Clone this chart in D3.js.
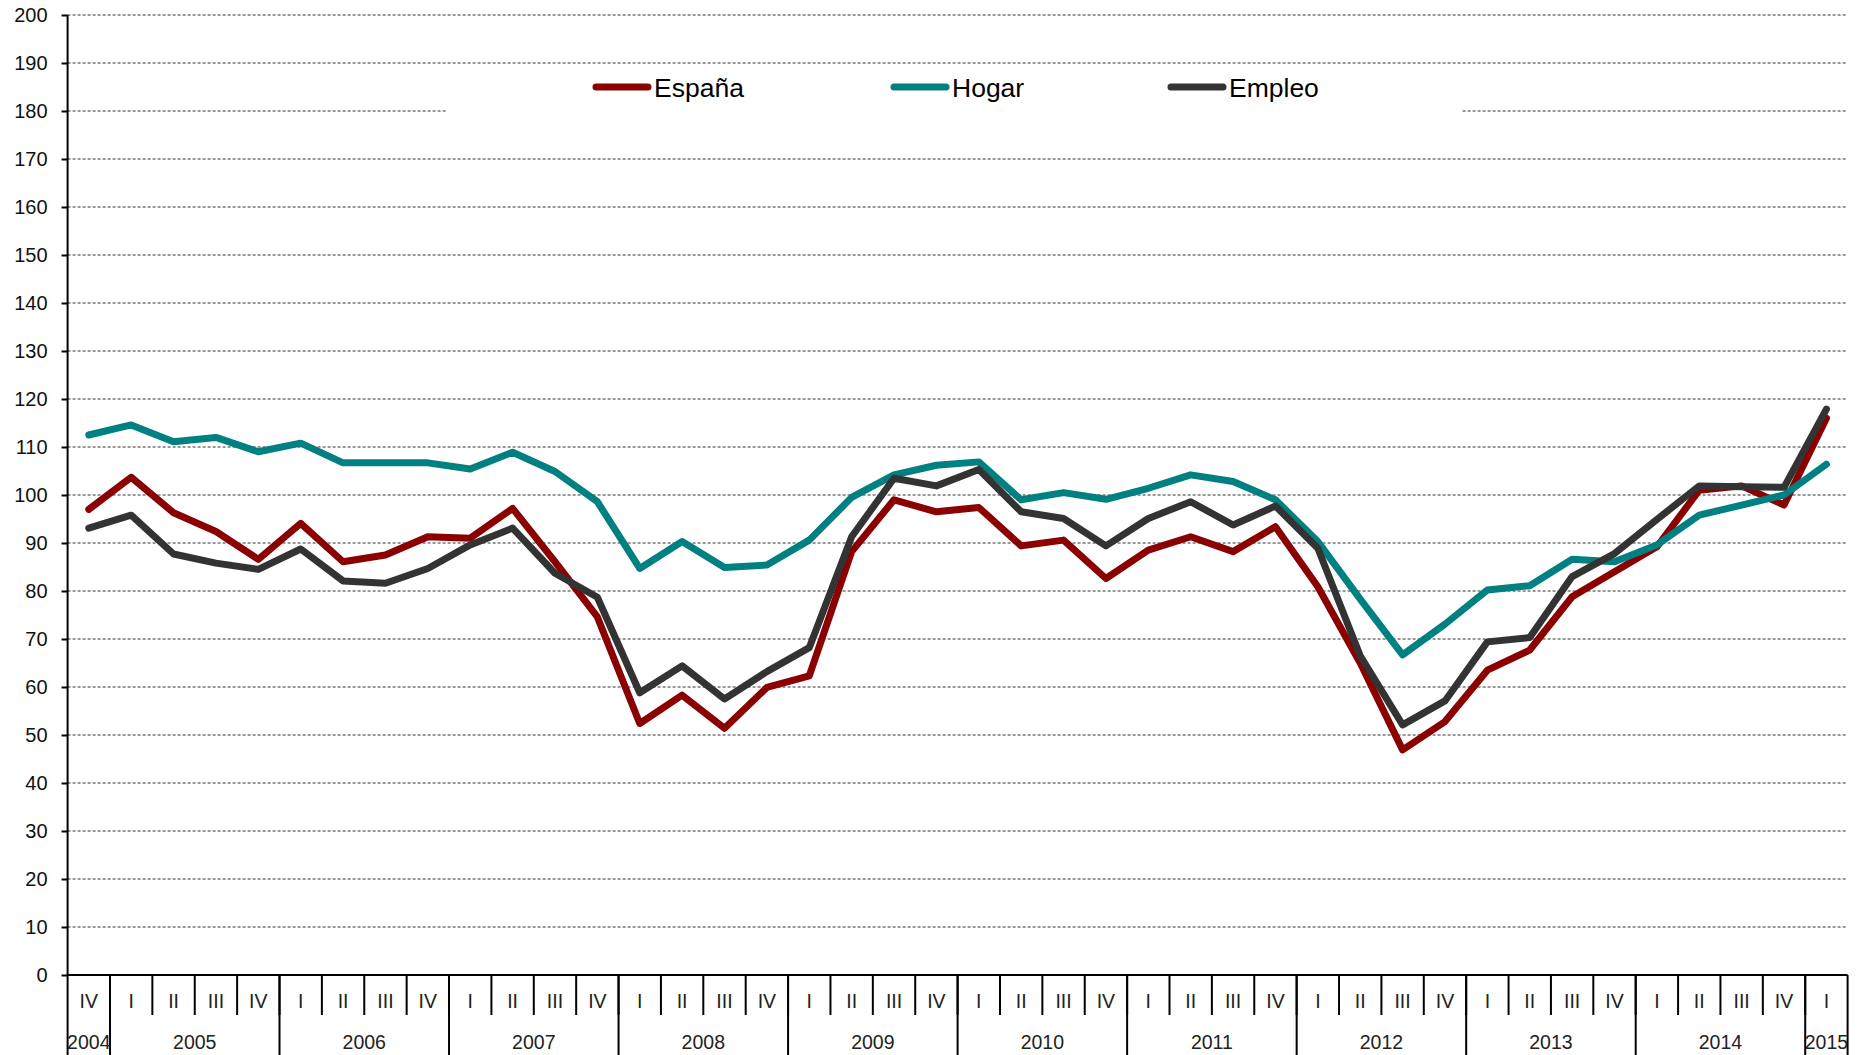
<!DOCTYPE html>
<html>
<head>
<meta charset="utf-8">
<script src="https://cdn.jsdelivr.net/npm/d3@7"></script>
<style>
  body { margin: 0; background: #fff; }
  svg { display: block; font-family: "Liberation Sans", Arial, sans-serif; }
</style>
</head>
<body>
<div id="chart"></div>
<script>
// quarters IV-2004 .. I-2015
const quarterLabels = ["IV",
  "I","II","III","IV", "I","II","III","IV", "I","II","III","IV",
  "I","II","III","IV", "I","II","III","IV", "I","II","III","IV",
  "I","II","III","IV", "I","II","III","IV", "I","II","III","IV",
  "I","II","III","IV",
  "I"];
const yearLabels = ["2004","2005","2006","2007","2008","2009","2010","2011","2012","2013","2014","2015"];
const yearSpans  = [1, 4, 4, 4, 4, 4, 4, 4, 4, 4, 4, 1];

const espana = [97.0, 103.7, 96.3, 92.4, 86.6, 94.1, 86.1, 87.5, 91.3, 91.0,
  97.2, 86.1, 74.6, 52.4, 58.3, 51.4, 59.9, 62.3, 88.2, 99.0,
  96.5, 97.4, 89.4, 90.6, 82.6, 88.5, 91.3, 88.2, 93.4, 80.9,
  65.0, 46.9, 52.8, 63.5, 67.7, 78.8, 84.0, 89.2, 101.0, 101.9,
  97.9, 116.0];
const hogar = [112.5, 114.6, 111.1, 112.0, 109.0, 110.8, 106.7, 106.7, 106.7, 105.4,
  108.9, 104.9, 98.6, 84.7, 90.3, 84.9, 85.4, 90.6, 99.5, 104.2,
  106.2, 106.9, 99.0, 100.5, 99.1, 101.4, 104.2, 102.8, 99.0, 90.3,
  78.3, 66.7, 73.1, 80.2, 81.1, 86.6, 86.1, 89.6, 95.8, 97.9,
  100.0, 106.4];
const empleo = [93.1, 95.8, 87.7, 85.8, 84.5, 88.75, 82.1, 81.6, 84.7, 89.6,
  93.1, 83.7, 78.7, 58.8, 64.4, 57.5, 63.2, 68.2, 91.3, 103.5,
  101.9, 105.3, 96.5, 95.1, 89.4, 95.1, 98.6, 93.75, 97.7, 88.9,
  66.5, 52.1, 57.1, 69.4, 70.3, 83.0, 87.8, 94.9, 101.9, 101.7,
  101.6, 117.9];

const seriesNames = ["España", "Hogar", "Empleo"];
const yTicks = d3.range(0, 201, 10);

const width = 1860, height = 1055;
const plotLeft = 67.6, plotRight = 1847.6, plotTop = 15, plotBottom = 975;

const colors = { "España": "#8b0000", "Hogar": "#008080", "Empleo": "#333333" };
const values = { "España": espana, "Hogar": hogar, "Empleo": empleo };

const svg = d3.select("#chart").append("svg")
  .attr("width", width)
  .attr("height", height);

const x = d3.scaleBand()
  .domain(d3.range(quarterLabels.length))
  .range([plotLeft, plotRight])
  .padding(0);
const cx = i => x(i) + x.bandwidth() / 2;

const y = d3.scaleLinear()
  .domain([0, 200])
  .range([plotBottom, plotTop]);

// gridlines
svg.append("g")
  .selectAll("line")
  .data(yTicks.filter(d => d > 0))
  .enter().append("line")
  .attr("x1", plotLeft).attr("x2", plotRight)
  .attr("y1", d => y(d)).attr("y2", d => y(d))
  .attr("stroke", "#333")
  .attr("stroke-width", 1)
  .attr("stroke-dasharray", "3,2");

// y axis
const yAxis = svg.append("g")
  .attr("transform", `translate(${plotLeft},0)`)
  .call(d3.axisLeft(y).tickValues(yTicks).tickSize(6).tickPadding(14).tickFormat(d3.format("d")));
yAxis.select(".domain").remove();
yAxis.selectAll(".tick line").attr("stroke", "#000").attr("stroke-width", 2);
yAxis.selectAll(".tick text")
  .style("font-size", "20px")
  .attr("fill", "#111");

// legend box (hides the 180 gridline behind it)
const legend = svg.append("g");
legend.append("rect")
  .attr("x", 446).attr("y", 70)
  .attr("width", 1015).attr("height", 46)
  .attr("fill", "#fff");

const legendX = { "España": 593, "Hogar": 891, "Empleo": 1168 };
seriesNames.forEach(name => {
  const lx = legendX[name];
  legend.append("line")
    .attr("x1", lx + 3).attr("x2", lx + 55)
    .attr("y1", 87).attr("y2", 87)
    .attr("stroke", colors[name])
    .attr("stroke-width", 7)
    .attr("stroke-linecap", "round");
  legend.append("text")
    .attr("x", lx + 61).attr("y", 96.5)
    .text(name)
    .style("font-size", "26.5px")
    .attr("fill", "#000");
});

// axis lines
svg.append("line")
  .attr("x1", plotLeft).attr("x2", plotLeft)
  .attr("y1", plotTop).attr("y2", height)
  .attr("stroke", "#000").attr("stroke-width", 2);
svg.append("line")
  .attr("x1", plotLeft).attr("x2", plotRight)
  .attr("y1", plotBottom).attr("y2", plotBottom)
  .attr("stroke", "#000").attr("stroke-width", 2);

// quarter separators and labels
const qAxis = svg.append("g");
quarterLabels.forEach((q, i) => {
  if (i > 0) {
    qAxis.append("line")
      .attr("x1", x(i)).attr("x2", x(i))
      .attr("y1", plotBottom).attr("y2", 1015)
      .attr("stroke", "#000").attr("stroke-width", 2);
  }
  qAxis.append("text")
    .attr("x", cx(i)).attr("y", 1008)
    .attr("text-anchor", "middle")
    .style("font-size", "19.5px")
    .attr("fill", "#222")
    .text(q);
});

// year separators and labels
let start = 0;
yearLabels.forEach((yr, k) => {
  const end = start + yearSpans[k];
  const x0 = x(start);
  const x1 = end < quarterLabels.length ? x(end) : plotRight;
  qAxis.append("line")
    .attr("x1", x1).attr("x2", x1)
    .attr("y1", plotBottom).attr("y2", height)
    .attr("stroke", "#000").attr("stroke-width", 2);
  qAxis.append("text")
    .attr("x", (x0 + x1) / 2).attr("y", 1049)
    .attr("text-anchor", "middle")
    .style("font-size", "19.5px")
    .attr("fill", "#222")
    .text(yr);
  start = end;
});

// series lines
const line = d3.line()
  .x((d, i) => cx(i))
  .y(d => y(d));

seriesNames.forEach(name => {
  svg.append("path")
    .datum(values[name])
    .attr("d", line)
    .attr("fill", "none")
    .attr("stroke", colors[name])
    .attr("stroke-width", 7)
    .attr("stroke-linejoin", "round")
    .attr("stroke-linecap", "round");
});
</script>
</body>
</html>
